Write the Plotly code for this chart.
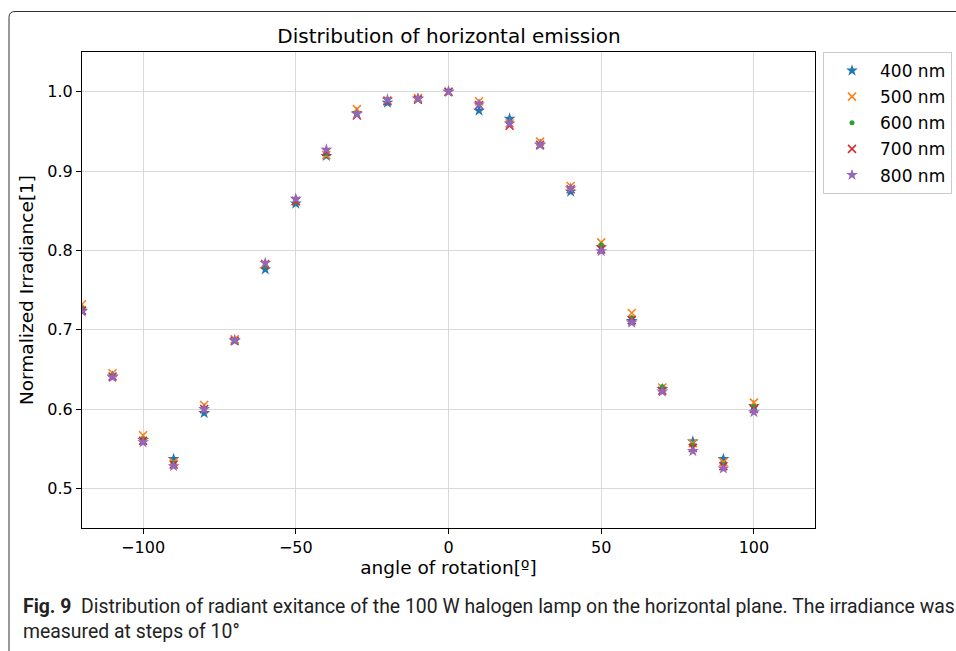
import plotly.graph_objects as go

angles = [-120, -110, -100, -90, -80, -70, -60, -50, -40, -30, -20, -10, 0,
          10, 20, 30, 40, 50, 60, 70, 80, 90, 100]

irr_400 = [0.724, 0.641, 0.561, 0.537, 0.595, 0.686, 0.776, 0.859, 0.919, 0.973, 0.986, 0.991, 1.0,
           0.976, 0.966, 0.933, 0.874, 0.804, 0.711, 0.625, 0.559, 0.537, 0.604]
irr_500 = [0.732, 0.645, 0.567, 0.533, 0.605, 0.688, 0.783, 0.862, 0.920, 0.978, 0.989, 0.992, 1.0,
           0.988, 0.960, 0.937, 0.881, 0.810, 0.721, 0.627, 0.557, 0.533, 0.608]
irr_600 = [0.727, 0.643, 0.562, 0.532, 0.601, 0.687, 0.780, 0.861, 0.922, 0.973, 0.990, 0.991, 1.0,
           0.985, 0.961, 0.934, 0.878, 0.807, 0.715, 0.628, 0.554, 0.530, 0.603]
irr_700 = [0.724, 0.641, 0.560, 0.530, 0.600, 0.686, 0.782, 0.862, 0.924, 0.970, 0.988, 0.990, 1.0,
           0.983, 0.957, 0.933, 0.877, 0.801, 0.712, 0.623, 0.551, 0.528, 0.600]
irr_800 = [0.723, 0.640, 0.558, 0.528, 0.600, 0.687, 0.784, 0.865, 0.927, 0.972, 0.990, 0.991, 1.0,
           0.984, 0.960, 0.933, 0.878, 0.799, 0.709, 0.622, 0.547, 0.525, 0.596]

series_names = ["400 nm", "500 nm", "600 nm", "700 nm", "800 nm"]
series_values = [irr_400, irr_500, irr_600, irr_700, irr_800]
colors = ["#1f77b4", "#ff7f0e", "#2ca02c", "#d62728", "#9467bd"]
symbols = ["star", "x-thin", "circle", "x-thin", "star"]
sizes = [9, 8, 5, 8, 9]

x_tickvals = [-100, -50, 0, 50, 100]
x_ticktext = ["\u2212100", "\u221250", "0", "50", "100"]
y_tickvals = [0.5, 0.6, 0.7, 0.8, 0.9, 1.0]
y_ticktext = ["0.5", "0.6", "0.7", "0.8", "0.9", "1.0"]

W, H = 956, 651
L, R, T, B = 82, 141, 52, 123
pw, ph = W - L - R, H - T - B


def px(xp):
    return (xp - L) / pw


def py(yp):
    return (H - B - yp) / ph


fig = go.Figure()
for name, vals, c, s, sz in zip(series_names, series_values, colors, symbols, sizes):
    marker = dict(color=c, symbol=s, size=sz)
    if s == "x-thin":
        marker["line"] = dict(color=c, width=1.5)
    else:
        marker["line"] = dict(width=0)
    fig.add_trace(go.Scatter(x=angles, y=vals, mode="markers", name=name,
                             marker=marker, legendgroup=name, cliponaxis=True))

font = "DejaVu Sans"
axis_common = dict(showline=True, linecolor="black", linewidth=1, mirror=True,
                   ticks="outside", ticklen=5, tickcolor="black", tickwidth=1,
                   showgrid=True, gridcolor="#d9d9d9", gridwidth=1, zeroline=False,
                   automargin=False,
                   tickfont=dict(family=font, size=16, color="black"))

fig.update_layout(
    width=W, height=H,
    margin=dict(l=L, r=R, t=T, b=B, autoexpand=False),
    paper_bgcolor="white", plot_bgcolor="white",
    showlegend=True,
    legend=dict(x=px(823), y=1.0, xanchor="left", yanchor="top",
                bgcolor="white", bordercolor="#cccccc", borderwidth=1,
                font=dict(family=font, size=17, color="black"),
                tracegroupgap=1, itemwidth=46),
    title=dict(text="Distribution of horizontal emission", x=px(449), xanchor="center",
               y=1 - 36 / H, yanchor="middle", xref="paper", yref="container",
               font=dict(family=font, size=20, color="black")),
    xaxis=dict(range=[-120, 120], tickvals=x_tickvals, ticktext=x_ticktext,
               title=dict(text="angle of rotation[º]", standoff=4,
                          font=dict(family=font, size=18.5, color="black")),
               **axis_common),
    yaxis=dict(range=[0.45, 1.05], tickvals=y_tickvals, ticktext=y_ticktext,
               title=dict(text="Normalized Irradiance[1]", standoff=8,
                          font=dict(family=font, size=18.5, color="black")),
               **axis_common),
)

# outer frame (rounded top-left corner)
x0, xr = px(9), px(962)
yt, yb = py(11.5), py(660)
rx, ry = 6 / pw, 6 / ph
fig.add_shape(type="path", xref="paper", yref="paper",
              path=f"M {x0},{yb} L {x0},{yt - ry} Q {x0},{yt} {x0 + rx},{yt} L {xr},{yt}",
              line=dict(color="#333333", width=1))

caption = ("<b>Fig. 9</b>  Distribution of radiant exitance of the 100 W halogen lamp on the "
           "horizontal plane. The irradiance was<br>measured at steps of 10°")
fig.add_annotation(text=caption, xref="paper", yref="paper", x=px(21), y=py(593),
                   xanchor="left", yanchor="top", align="left", showarrow=False,
                   font=dict(family="Roboto", size=19.4, color="#222222"))

fig.write_html("out.html", config={"displayModeBar": False},
               post_script="document.body.style.margin='0';")
